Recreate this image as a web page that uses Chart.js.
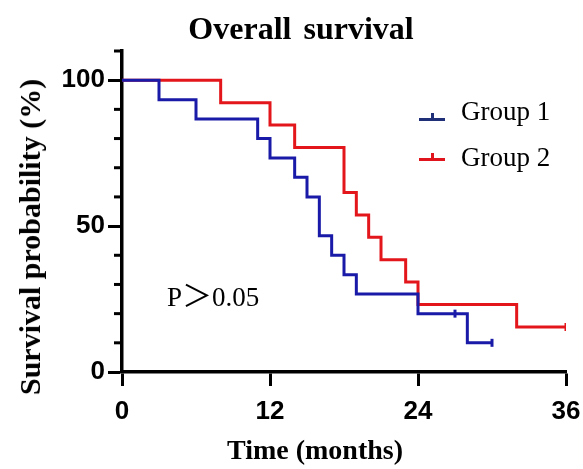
<!DOCTYPE html>
<html>
<head>
<meta charset="utf-8">
<script src="https://cdn.jsdelivr.net/npm/chart.js@4.4.1/dist/chart.umd.min.js"></script>
<style>
  body { margin: 0; background: #fff; }
  #wrap { position: relative; width: 583px; height: 469px; }
  .txt { position: absolute; font-family: "Liberation Serif", "Times New Roman", "Noto Sans CJK SC", serif; color: #000; white-space: nowrap; line-height: 1; }
  .bold { font-weight: bold; }
  .icon { position: absolute; width: 26px; height: 3px; }
  .icon i { position: absolute; left: 11.5px; bottom: 0; width: 3px; height: 8px; background: inherit; }
</style>
</head>
<body>
<div id="wrap">
  <canvas id="km" width="583" height="469"></canvas>

  <div class="txt bold" id="title" style="font-size:32px; left:301px; top:12px; transform:translateX(-50%); word-spacing:4px;">Overall survival</div>
  <div class="txt bold" id="ytitle" style="font-size:30px; left:30px; top:237px; transform:translate(-50%,-50%) rotate(-90deg);">Survival probability (%)</div>
  <div class="txt bold" id="xtitle" style="font-size:28px; left:315px; top:450px; transform:translate(-50%,-50%);">Time (months)</div>

  <div class="icon" style="left:419px; top:118px; background:#1f2f78;"><i></i></div>
  <div class="txt" style="font-size:27px; left:461px; top:98px;">Group 1</div>
  <div class="icon" style="left:419px; top:158px; background:#e0141c;"><i></i></div>
  <div class="txt" style="font-size:27px; left:461px; top:144px;">Group 2</div>

  <div class="txt" style="font-size:27px; left:167px; top:281px;">P<span style="font-size:30px;">＞</span>0.05</div>
</div>

<script>
// Kaplan-Meier steps (time in months, survival in %)
const g1Time     = [0, 3, 6, 11, 12, 14, 15, 16, 17, 18, 19, 24, 28, 30];
const g1Surv     = [100, 93.3, 86.7, 80, 73.3, 66.7, 60, 46.7, 40, 33.3, 26.7, 20, 10, 10];
const g1CensTime = [27, 30];
const g1CensSurv = [20, 10];

const g2Time     = [0, 8, 12, 14, 18, 19, 20, 21, 23, 24, 32, 36];
const g2Surv     = [100, 92.3, 84.6, 76.9, 61.5, 53.8, 46.2, 38.5, 30.8, 23.1, 15.4, 15.4];
const g2CensTime = [36];
const g2CensSurv = [15.4];

const xTicks = [0, 12, 24, 36];
const yLabels = [0, 50, 100];

const BLUE = "#1a1aa8";
const RED = "#e3161c";

const pts = (xs, ys) => xs.map((x, i) => ({ x, y: ys[i] }));
const isMajor = v => yLabels.includes(v);

// short minor ticks on the y axis
const minorTicks = {
  id: "minorTicks",
  afterDraw(chart) {
    const y = chart.scales.y;
    const ctx = chart.ctx;
    const x0 = chart.chartArea.left;
    ctx.save();
    ctx.strokeStyle = "#000";
    ctx.lineWidth = 3;
    y.ticks.forEach(t => {
      if (isMajor(t.value)) return;
      const py = y.getPixelForValue(t.value);
      ctx.beginPath();
      ctx.moveTo(x0 - 8, py);
      ctx.lineTo(x0, py);
      ctx.stroke();
    });
    ctx.restore();
  }
};

const tickFont = { family: "'Liberation Sans', Arial, sans-serif", size: 26, weight: "bold" };

new Chart(document.getElementById("km").getContext("2d"), {
  type: "line",
  data: {
    datasets: [
      { label: "Group 1", data: pts(g1Time, g1Surv), stepped: "before", borderColor: BLUE, borderWidth: 3, pointRadius: 0, fill: false },
      { label: "Group 2", data: pts(g2Time, g2Surv), stepped: "before", borderColor: RED, borderWidth: 3, pointRadius: 0, fill: false },
      { label: "cens1", data: pts(g1CensTime, g1CensSurv), showLine: false, pointStyle: "line", rotation: 90, radius: 4, borderColor: BLUE, borderWidth: 3 },
      { label: "cens2", data: pts(g2CensTime, g2CensSurv), showLine: false, pointStyle: "line", rotation: 90, radius: 4, borderColor: RED, borderWidth: 3 }
    ]
  },
  options: {
    responsive: false,
    animation: false,
    layout: { padding: { left: 0, right: 17, top: 51, bottom: 0 } },
    plugins: { legend: { display: false }, tooltip: { enabled: false } },
    scales: {
      x: {
        type: "linear",
        min: 0,
        max: 36,
        afterFit: s => { s.height = 97; s.paddingLeft = 0; s.paddingRight = 0; },
        afterBuildTicks: s => { s.ticks = xTicks.map(v => ({ value: v })); },
        ticks: { font: tickFont, color: "#000", padding: 10, maxRotation: 0, autoSkip: false },
        grid: { drawOnChartArea: false, tickLength: 14, tickWidth: 3, tickColor: "#000" },
        border: { color: "#000", width: 3.5 }
      },
      y: {
        min: 0,
        max: 110,
        afterFit: s => { s.width = 122; s.paddingTop = 0; s.paddingBottom = 0; },
        ticks: {
          stepSize: 10,
          autoSkip: false,
          font: tickFont,
          color: "#000",
          padding: 3,
          callback: v => (isMajor(v) ? v : "")
        },
        grid: {
          drawOnChartArea: false,
          tickLength: 14,
          tickWidth: 3,
          tickColor: c => (c.tick && isMajor(c.tick.value) ? "#000" : "rgba(0,0,0,0)")
        },
        border: { color: "#000", width: 3.5 }
      }
    }
  },
  plugins: [minorTicks]
});
</script>
</body>
</html>
